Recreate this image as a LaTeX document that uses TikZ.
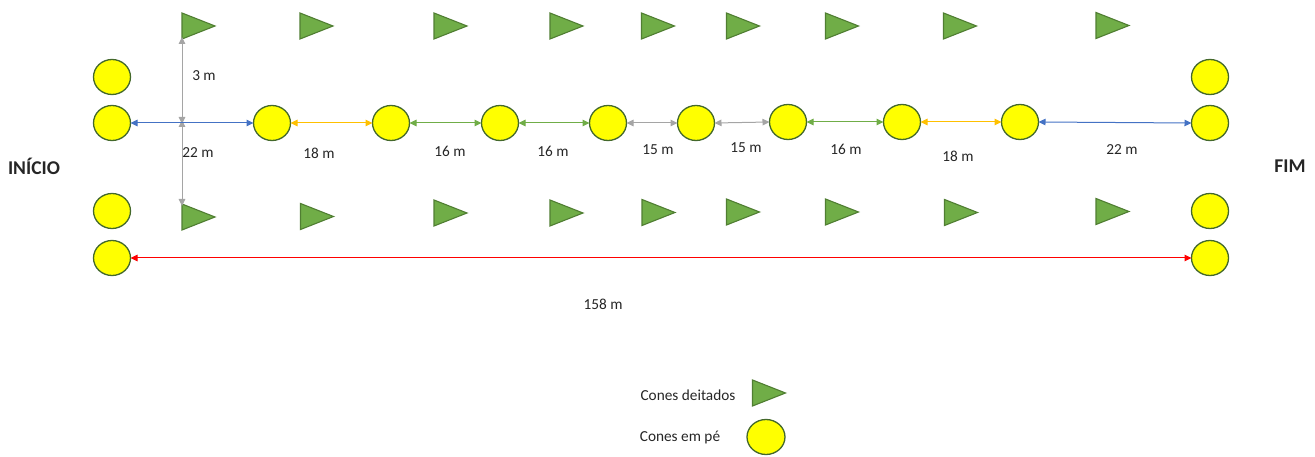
\documentclass[tikz,border=0pt]{standalone}
\usepackage{fontspec}
\setmainfont{Carlito}
\usetikzlibrary{shapes.geometric,arrows.meta}
\definecolor{coneY}{HTML}{FFFF00}
\definecolor{coneYd}{HTML}{43682B}
\definecolor{coneG}{HTML}{70AD47}
\definecolor{coneGd}{HTML}{507E32}
\definecolor{aBlue}{HTML}{4472C4}
\definecolor{aOrange}{HTML}{FFC000}
\definecolor{aGreen}{HTML}{70AD47}
\definecolor{aGray}{HTML}{A5A5A5}
\definecolor{aRed}{HTML}{FF0000}
\tikzset{
  standcone/.style={ellipse, draw=coneYd, fill=coneY, line width=1.3pt, minimum width=37pt, minimum height=35pt, inner sep=0pt, outer sep=0pt},
  lyingbox/.style={rectangle, minimum width=33pt, minimum height=26pt, inner sep=0pt, outer sep=0pt},
  lyingfill/.style={fill=coneG, draw=coneGd, line width=1.1pt, line join=miter},
  dim/.style={line width=1pt, {Triangle[length=7pt,width=6.5pt]}-{Triangle[length=7pt,width=6.5pt]}},
  lbl/.style={font=\fontsize{15.3}{18}\selectfont, inner sep=0pt, text=black!85},
  big/.style={font=\fontsize{19.5}{23}\selectfont\bfseries, inner sep=0pt, text=black!85},
}
\newcommand{\lying}[3]{%
  \node[lyingbox] (#1) at (#2,#3) {};
  \path[lyingfill] (#1.north west) -- (#1.east) -- (#1.south west) -- cycle;}
\begin{document}
\begin{tikzpicture}[x=1pt,y=-1pt]
\useasboundingbox (0,0) rectangle (1315,457);
% standing cones, left and right columns
\node[standcone] (l1) at (112,77) {};
\node[standcone] (l2) at (112,123) {};
\node[standcone] (l3) at (112,211) {};
\node[standcone] (l4) at (112,258) {};
\node[standcone] (r1) at (1210,77) {};
\node[standcone] (r2) at (1210,123) {};
\node[standcone] (r3) at (1210,211) {};
\node[standcone] (r4) at (1210,258) {};
% middle row
\node[standcone] (m1) at (272,123) {};
\node[standcone] (m2) at (391,123) {};
\node[standcone] (m3) at (500,123) {};
\node[standcone] (m4) at (608,123) {};
\node[standcone] (m5) at (696,123) {};
\node[standcone] (m6) at (788,122) {};
\node[standcone] (m7) at (902,122) {};
\node[standcone] (m8) at (1020,122) {};
% lying cones, top row
\lying{t1}{198.5}{26}
\lying{t2}{316.5}{26}
\lying{t3}{450.5}{26}
\lying{t4}{566.5}{26}
\lying{t5}{658}{26}
\lying{t6}{743}{26}
\lying{t7}{842}{26}
\lying{t8}{960}{26}
\lying{t9}{1112.5}{25.5}
% lying cones, bottom row
\lying{b1}{198.5}{217}
\lying{b2}{317}{216.5}
\lying{b3}{450.5}{213}
\lying{b4}{566.5}{213}
\lying{b5}{658.5}{212.5}
\lying{b6}{743}{212}
\lying{b7}{842}{212}
\lying{b8}{961}{212.5}
\lying{b9}{1112.5}{211.5}
% vertical gray arrows
\coordinate (cross) at (182,122);
\draw[dim, aGray] ([yshift=2pt]t1.south west) -- ([yshift=-2pt]cross);
\draw[dim, aGray] ([yshift=2pt]cross) -- ([yshift=-2pt]b1.north west);
% horizontal distance arrows
\draw[dim, aBlue] (l2.east) -- (m1.west);
\draw[dim, aOrange] (m1.east) -- (m2.west);
\draw[dim, aGreen] (m2.east) -- (m3.west);
\draw[dim, aGreen] (m3.east) -- (m4.west);
\draw[dim, aGray] (m4.east) -- (m5.west);
\draw[dim, aGray] (m5.east) -- (m6.west);
\draw[dim, aGreen] (m6.east) -- (m7.west);
\draw[dim, aOrange] (m7.east) -- (m8.west);
\draw[dim, aBlue] (m8.east) -- (r2.west);
\draw[dim, aRed] (l4.east) -- (r4.west);
% labels
\node[lbl] (d3) at (204,76) {3 m};
\node[lbl] (d22a) at (198,153) {22 m};
\node[lbl] (d18a) at (319,153) {18 m};
\node[lbl] (d16a) at (450,151) {16 m};
\node[lbl] (d16b) at (553,151) {16 m};
\node[lbl] (d15a) at (658,150) {15 m};
\node[lbl] (d15b) at (746,148) {15 m};
\node[lbl] (d16c) at (846,149) {16 m};
\node[lbl] (d18b) at (958,156) {18 m};
\node[lbl] (d22b) at (1122,150) {22 m};
\node[lbl] (d158) at (603,304) {158 m};
\node[big] (start) at (34,166) {INÍCIO};
\node[big] (end) at (1290,166) {FIM};
% legend
\node[lbl] (leg1) at (688,395) {Cones deitados};
\lying{legtri}{769}{393}
\node[lbl] (leg2) at (680,438) {Cones em pé};
\node[standcone, minimum width=38pt] (legcirc) at (766,437) {};
\end{tikzpicture}
\end{document}
